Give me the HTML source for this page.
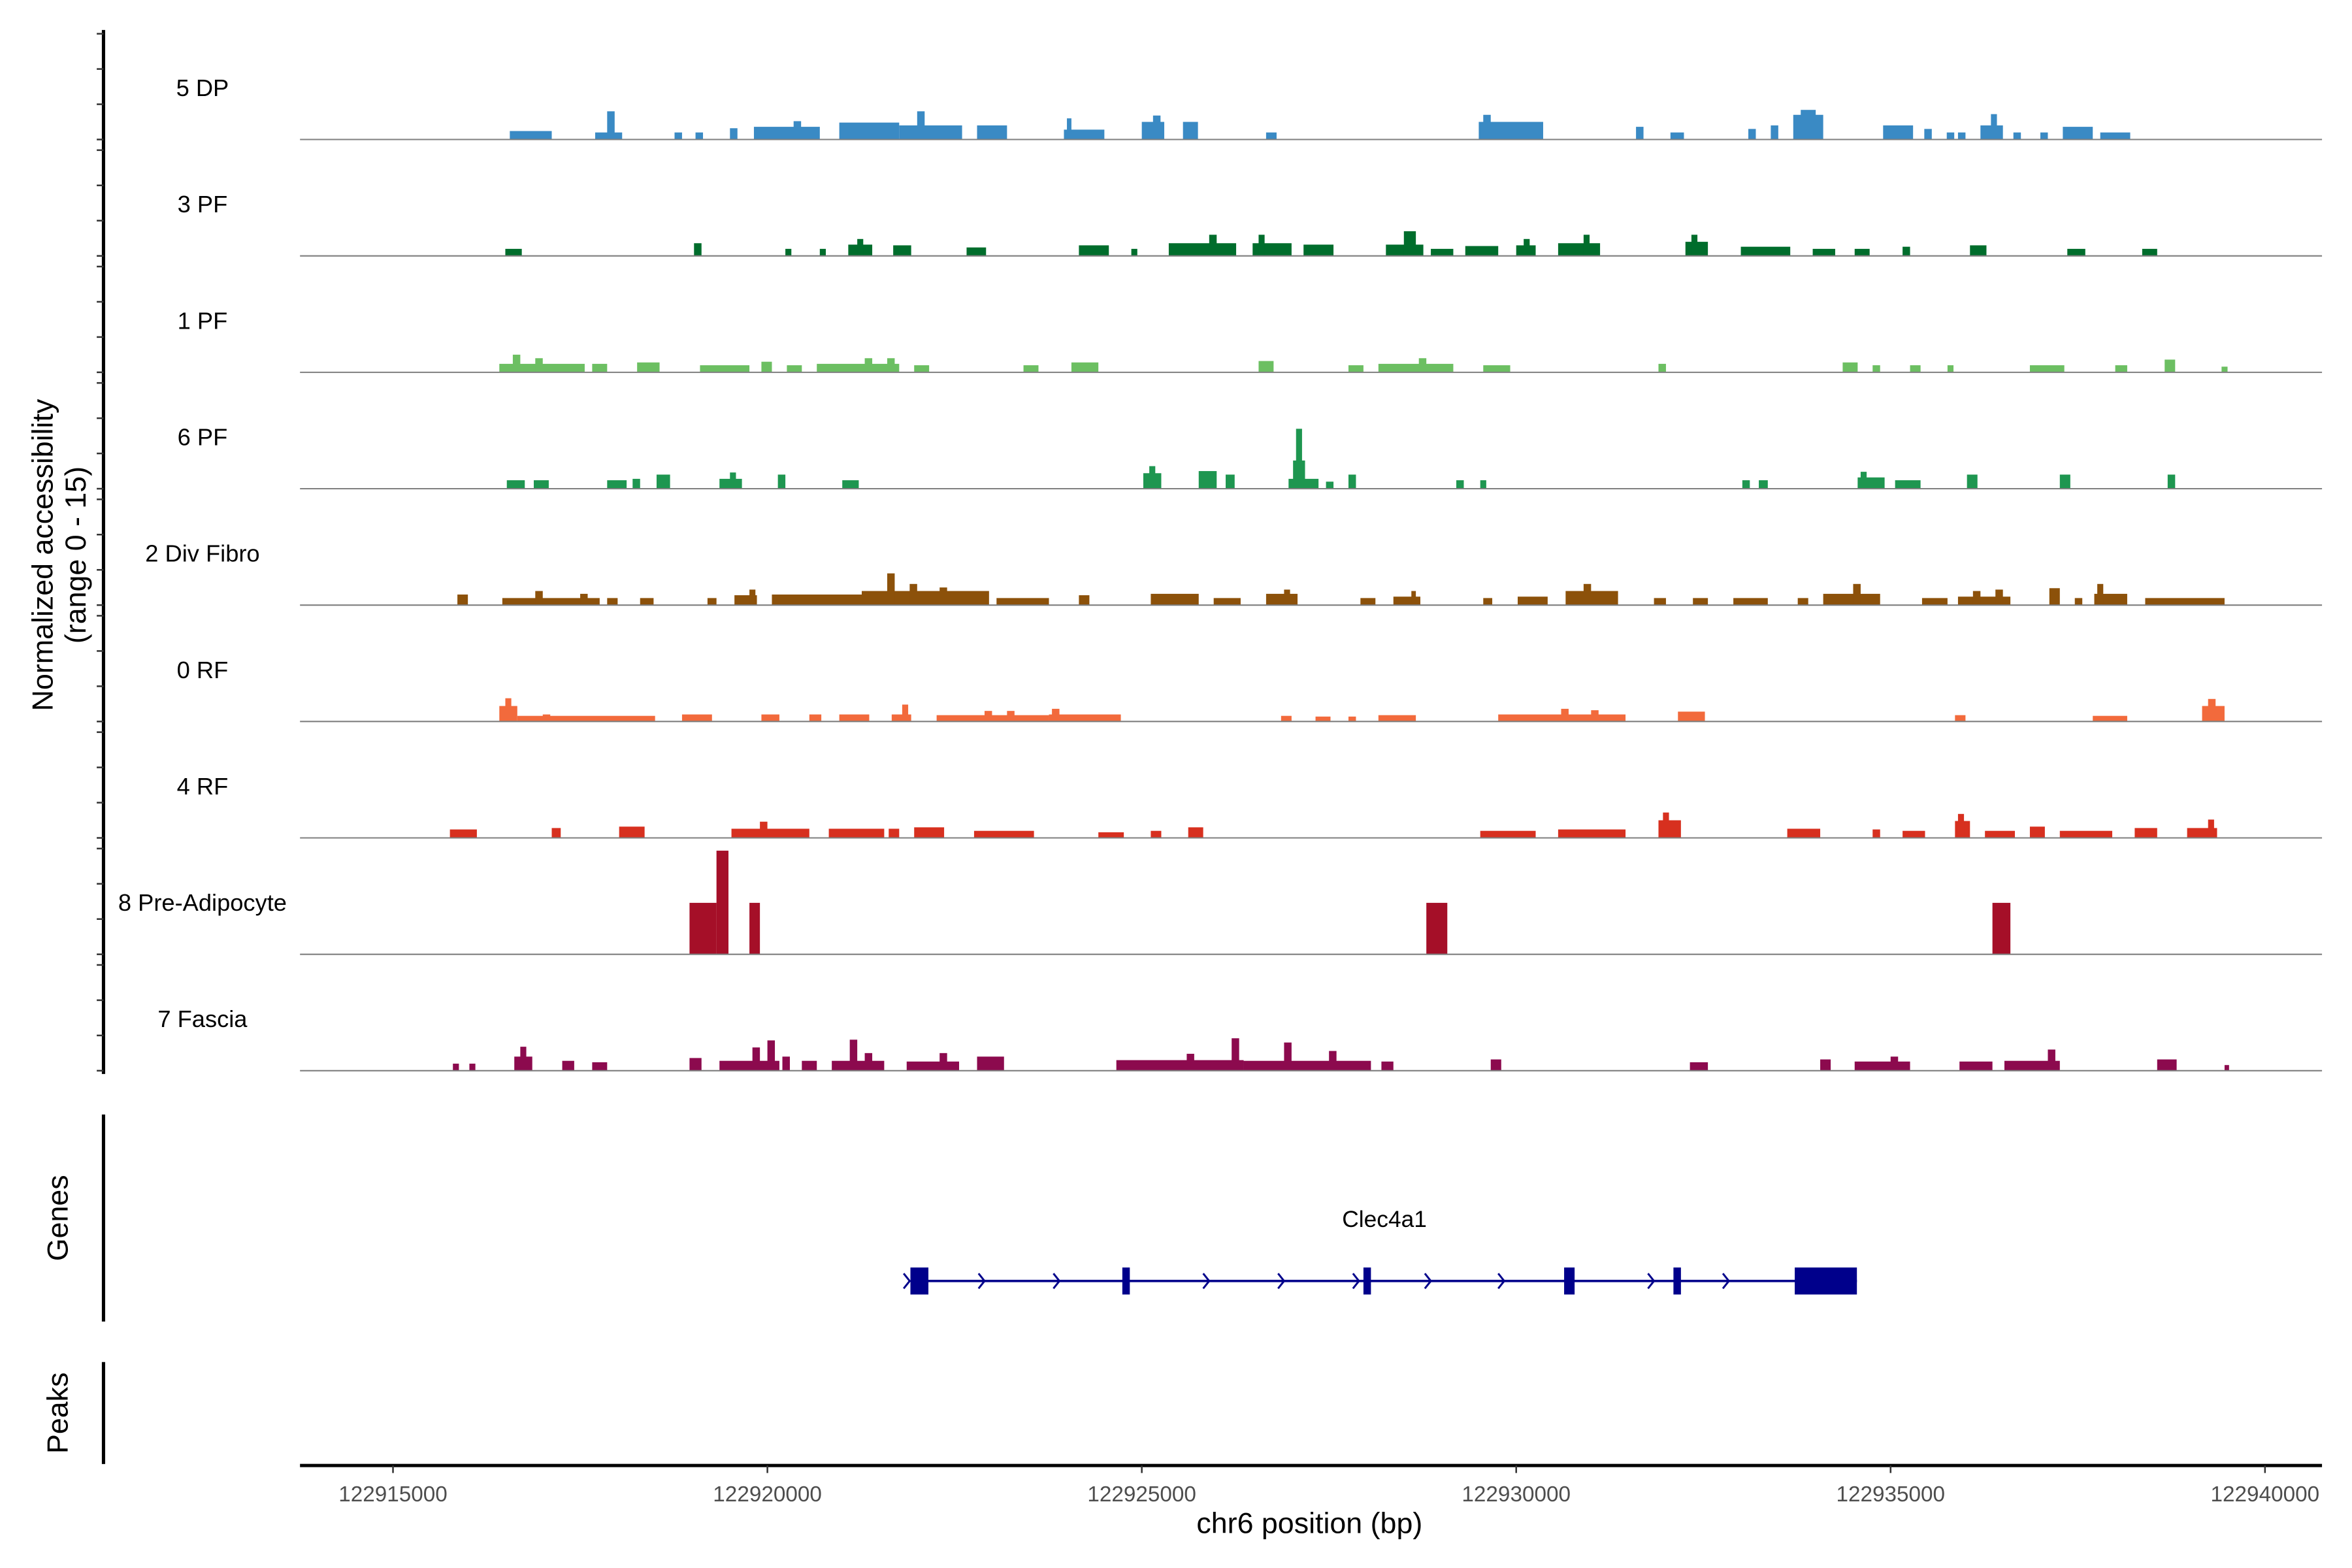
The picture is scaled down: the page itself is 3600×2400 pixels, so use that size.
<!DOCTYPE html>
<html><head><meta charset="utf-8">
<style>
html,body{margin:0;padding:0;background:#fff;}
svg{display:block;}
text{font-family:"Liberation Sans",Arial,sans-serif;}
</style></head>
<body>
<svg id="chart" width="3600" height="2400" viewBox="0 0 1568 1045.33" preserveAspectRatio="none" xmlns="http://www.w3.org/2000/svg">
<rect width="1568" height="1046" fill="#fff"/>
<g id="tracks"></g>
<g id="gene"></g>
<g id="axes"></g>
</svg>
<script>
// ---- data ----
const trackNames = ["5 DP","3 PF","1 PF","6 PF","2 Div Fibro","0 RF","4 RF","8 Pre-Adipocyte","7 Fascia"];
const trackColors = ["#3a8ac4","#006d2c","#6cbf62","#1e9650","#8c510a","#f26a3c","#d7301f","#a50f28","#8c0a4e"];
// peaks: [start kb, end kb, height] ; kb relative to 122910000
const dp5 = [[6.56,7.12,1.2],[7.7,8.06,1],[7.86,7.96,4],[8.76,8.86,1],[9.04,9.14,1],[9.5,9.6,1.6],[9.82,10.7,1.8],[10.35,10.45,2.6],[10.96,11.76,2.4],[11.76,12.6,2],[12.0,12.1,4],[12.8,13.2,2],[13.96,14.5,1.4],[14.0,14.06,3],[15.0,15.3,2.5],[15.15,15.25,3.4],[15.55,15.75,2.5],[16.66,16.8,1],[19.5,20.36,2.5],[19.56,19.66,3.5],[21.6,21.7,1.8],[22.06,22.24,1],[23.1,23.2,1.5],[23.4,23.5,2],[23.7,24.1,3.5],[23.8,24.0,4.2],[24.9,25.3,2],[25.45,25.55,1.5],[25.75,25.85,1],[25.9,26.0,1],[26.2,26.5,2],[26.34,26.42,3.6],[26.64,26.74,1],[27.0,27.1,1],[27.3,27.7,1.8],[27.8,28.2,1]];
const pf3 = [[6.5,6.72,1],[9.02,9.12,1.8],[10.24,10.32,1],[10.7,10.78,1],[11.08,11.4,1.6],[11.2,11.28,2.4],[11.68,11.92,1.5],[12.66,12.92,1.2],[14.16,14.56,1.5],[14.86,14.94,1],[15.36,16.26,1.8],[15.9,16.0,3],[16.48,17.0,1.8],[16.56,16.64,3],[17.16,17.56,1.6],[18.26,18.76,1.6],[18.5,18.66,3.5],[18.86,19.16,1],[19.32,19.76,1.4],[20.0,20.26,1.5],[20.1,20.18,2.4],[20.56,21.12,1.8],[20.9,20.98,3],[22.26,22.56,2],[22.34,22.42,3],[23.0,23.66,1.3],[23.96,24.26,1],[24.52,24.72,1],[25.16,25.26,1.3],[26.06,26.28,1.5],[27.36,27.6,1],[28.36,28.56,1]];
const pf1 = [[6.42,7.56,1.2],[6.6,6.7,2.5],[6.9,7.0,2],[7.66,7.86,1.2],[8.26,8.56,1.4],[9.1,9.76,1],[9.92,10.06,1.5],[10.26,10.46,1],[10.66,11.76,1.2],[11.3,11.4,2],[11.6,11.7,2],[11.96,12.16,1],[13.42,13.62,1],[14.06,14.42,1.4],[16.56,16.76,1.6],[17.76,17.96,1],[18.16,19.16,1.2],[18.7,18.8,2],[19.56,19.92,1],[21.9,22.0,1.2],[24.36,24.56,1.4],[24.76,24.86,1],[25.26,25.4,1],[25.76,25.84,1],[26.86,27.32,1],[28.0,28.16,1],[28.66,28.8,1.8],[29.42,29.5,0.8]];
const pf6 = [[6.52,6.76,1.2],[6.88,7.08,1.2],[7.86,8.12,1.2],[8.2,8.3,1.4],[8.52,8.7,2],[9.36,9.66,1.4],[9.5,9.58,2.3],[10.14,10.24,2],[11.0,11.22,1.2],[15.02,15.26,2.2],[15.1,15.18,3.2],[15.76,16.0,2.5],[16.12,16.24,2],[16.96,17.36,1.4],[17.02,17.18,4],[17.06,17.14,8.5],[17.46,17.56,1],[17.76,17.86,2],[19.2,19.3,1.2],[19.52,19.6,1.2],[23.02,23.12,1.2],[23.24,23.36,1.2],[24.56,24.92,1.6],[24.6,24.68,2.4],[25.06,25.4,1.2],[26.02,26.16,2],[27.26,27.4,2],[28.7,28.8,2]];
const divFibro2 = [[5.86,6.0,1.5],[6.46,7.76,1],[6.9,7.0,2],[7.5,7.6,1.6],[7.86,8.0,1],[8.3,8.48,1],[9.2,9.32,1],[9.56,9.86,1.4],[9.76,9.84,2.2],[10.06,11.26,1.5],[11.26,12.96,2],[11.6,11.7,4.5],[11.9,12.0,3],[12.3,12.4,2.5],[13.06,13.76,1],[14.16,14.3,1.4],[15.12,15.76,1.6],[15.96,16.32,1],[16.66,17.08,1.6],[16.9,16.98,2.2],[17.92,18.12,1],[18.36,18.72,1.2],[18.6,18.66,2],[19.56,19.68,1],[20.02,20.42,1.2],[20.66,21.36,2],[20.9,21.0,3],[21.84,22.0,1],[22.36,22.56,1],[22.9,23.36,1],[23.76,23.9,1],[24.1,24.86,1.6],[24.5,24.6,3],[25.42,25.76,1],[25.9,26.6,1.2],[26.1,26.2,2],[26.4,26.5,2.2],[27.12,27.26,2.4],[27.46,27.56,1],[27.72,28.16,1.6],[27.76,27.84,3],[28.4,29.46,1]];
const rf0 = [[6.42,6.66,2.2],[6.5,6.58,3.3],[6.66,8.5,0.8],[7.0,7.1,1],[8.86,9.26,1],[9.92,10.16,1],[10.56,10.72,1],[10.96,11.36,1],[11.66,11.92,1],[11.8,11.88,2.4],[12.26,13.76,0.9],[12.9,13.0,1.5],[13.2,13.3,1.5],[13.8,13.9,1.8],[13.76,14.72,1],[16.86,17.0,0.8],[17.32,17.52,0.7],[17.76,17.86,0.7],[18.16,18.66,0.9],[19.76,21.46,1],[20.6,20.7,1.8],[21.0,21.1,1.6],[22.16,22.52,1.4],[25.86,26.0,0.9],[27.7,28.16,0.8],[29.16,29.46,2.2],[29.24,29.34,3.2]];
const rf4 = [[5.76,6.12,1.2],[7.12,7.24,1.4],[8.02,8.36,1.6],[9.52,10.56,1.3],[9.9,10.0,2.3],[10.82,11.56,1.3],[11.62,11.76,1.3],[11.96,12.36,1.5],[12.76,13.56,1],[14.42,14.76,0.8],[15.12,15.26,1],[15.62,15.82,1.5],[19.52,20.26,1],[20.56,21.46,1.2],[21.9,22.2,2.5],[21.96,22.04,3.6],[23.62,24.06,1.3],[24.76,24.86,1.2],[25.16,25.46,1],[25.86,26.06,2.4],[25.9,25.98,3.4],[26.26,26.66,1],[26.86,27.06,1.6],[27.26,27.96,1],[28.26,28.56,1.4],[28.96,29.36,1.4],[29.24,29.32,2.6]];
const preAdipo8 = [[8.96,9.32,7.3],[9.32,9.48,14.7],[9.76,9.9,7.3],[18.8,19.08,7.3],[26.36,26.6,7.3]];
const fascia7 = [[5.8,5.88,1],[6.02,6.1,1],[6.62,6.86,2],[6.7,6.78,3.4],[7.26,7.42,1.4],[7.66,7.86,1.2],[8.96,9.12,1.8],[9.36,10.16,1.4],[9.8,9.9,3.3],[10.0,10.1,4.3],[10.2,10.3,2],[10.46,10.66,1.4],[10.86,11.56,1.4],[11.1,11.2,4.4],[11.3,11.4,2.5],[11.86,12.56,1.3],[12.3,12.4,2.5],[12.8,13.16,2],[14.66,16.36,1.5],[15.6,15.7,2.4],[16.2,16.3,4.6],[16.36,18.06,1.4],[16.9,17.0,4],[17.5,17.6,2.8],[18.2,18.36,1.3],[19.66,19.8,1.6],[22.32,22.56,1.2],[24.06,24.2,1.6],[24.52,25.26,1.3],[25.0,25.1,2],[25.92,26.36,1.3],[26.52,27.26,1.4],[27.1,27.2,3],[28.56,28.82,1.6],[29.46,29.52,0.8]];
const trackData = [dp5,pf3,pf1,pf6,divFibro2,rf0,rf4,preAdipo8,fascia7];
// gene Clec4a1
const geneSpan = [11.91, 24.55];
const exons = [[11.91,12.15],[14.74,14.84],[17.96,18.06],[20.64,20.78],[22.1,22.2],[23.72,24.55]];
const arrowsKb = [11.86,12.86,13.86,15.86,16.86,17.86,18.82,19.8,21.8,22.8];
const xTicks = [122915000,122920000,122925000,122930000,122935000,122940000];

// ---- scales ----
const NS="http://www.w3.org/2000/svg";
const X0=262, PXKB=49.92, XLEFT=200, XRIGHT=1548;
function xKb(kb){return X0+(kb-5)*PXKB;}
function xBp(bp){return xKb((bp-122910000)/1000);}
const BASE0=93, STEP=77.6, UNIT=70.5/15;
function baseY(i){return BASE0+i*STEP;}
function yVal(i,v){return baseY(i)-v*UNIT;}
function mk(tag,attrs,parent){const e=document.createElementNS(NS,tag);for(const k in attrs)e.setAttribute(k,attrs[k]);parent.appendChild(e);return e;}

const gT=document.getElementById('tracks');
trackData.forEach((peaks,i)=>{
  const g=mk('g',{},gT);
  
  
  const lab=mk('text',{x:135,y:baseY(i)-29,'font-size':15.8,'text-anchor':'middle',fill:'#000'},g);
  lab.textContent=trackNames[i];
  
  
  peaks.forEach(p=>{
    const x1=xKb(p[0]),x2=xKb(p[1]),y=yVal(i,p[2]);
    const r=mk('rect',{x:x1,y:y,width:Math.max(x2-x1,1.2),height:baseY(i)-y,fill:trackColors[i]},g);
    
    
  });
  const bl=mk('line',{x1:XLEFT,x2:XRIGHT,y1:baseY(i),y2:baseY(i),stroke:'#7f7f7f','stroke-width':0.9},g);
  
  
});

// gene
const gG=document.getElementById('gene');
const GY=854;
const gl=mk('line',{x1:xKb(geneSpan[0]),x2:xKb(geneSpan[1]),y1:GY,y2:GY,stroke:'#00008b','stroke-width':1.6},gG);


arrowsKb.forEach(k=>{
  const x=xKb(k);
  const a=mk('polyline',{points:`${x-2},${GY-5} ${x+2},${GY} ${x-2},${GY+5}`,fill:'none',stroke:'#00008b','stroke-width':1.3},gG);
  
  
});
exons.forEach(e=>{
  const r=mk('rect',{x:xKb(e[0]),y:GY-9,width:xKb(e[1])-xKb(e[0]),height:18,fill:'#00008b'},gG);
  
  
});
const gn=mk('text',{x:923,y:818,'font-size':15.4,'text-anchor':'middle',fill:'#000'},gG);
gn.textContent='Clec4a1';



// axes
const gA=document.getElementById('axes');
const ya=mk('line',{x1:69,x2:69,y1:20,y2:716,stroke:'#000','stroke-width':2.2},gA);


for(let i=0;i<trackData.length;i++){
  [0,5,10,15].forEach(v=>{
    const y=yVal(i,v);
    const t=mk('line',{x1:64.5,x2:69,y1:y,y2:y,stroke:'#333','stroke-width':1.1},gA);
    
    
  });
}
const yt=mk('text',{transform:'translate(35,370) rotate(-90)','font-size':19.5,'text-anchor':'middle',fill:'#000'},gA);
yt.textContent='Normalized accessibility';


const yt2=mk('text',{transform:'translate(57,370) rotate(-90)','font-size':19.5,'text-anchor':'middle',fill:'#000'},gA);
yt2.textContent='(range 0 - 15)';


const ga=mk('line',{x1:69,x2:69,y1:743,y2:881,stroke:'#000','stroke-width':2.2},gA);


const gt=mk('text',{transform:'translate(45,812) rotate(-90)','font-size':19.5,'text-anchor':'middle',fill:'#000'},gA);
gt.textContent='Genes';


const pa=mk('line',{x1:69,x2:69,y1:908,y2:976,stroke:'#000','stroke-width':2.2},gA);


const pt=mk('text',{transform:'translate(45,942) rotate(-90)','font-size':19.5,'text-anchor':'middle',fill:'#000'},gA);
pt.textContent='Peaks';


const xa=mk('line',{x1:XLEFT,x2:XRIGHT,y1:977,y2:977,stroke:'#000','stroke-width':2.2},gA);


xTicks.forEach(v=>{
  const x=xBp(v);
  const t=mk('line',{x1:x,x2:x,y1:977,y2:982,stroke:'#333','stroke-width':1.1},gA);
  
  
  const l=mk('text',{x:x,y:1001,'font-size':14.5,'text-anchor':'middle',fill:'#4d4d4d'},gA);
  l.textContent=String(v);
  
  
});
const xt=mk('text',{x:873,y:1022,'font-size':19.5,'text-anchor':'middle',fill:'#000'},gA);
xt.textContent='chr6 position (bp)';


</script>
</body></html>
